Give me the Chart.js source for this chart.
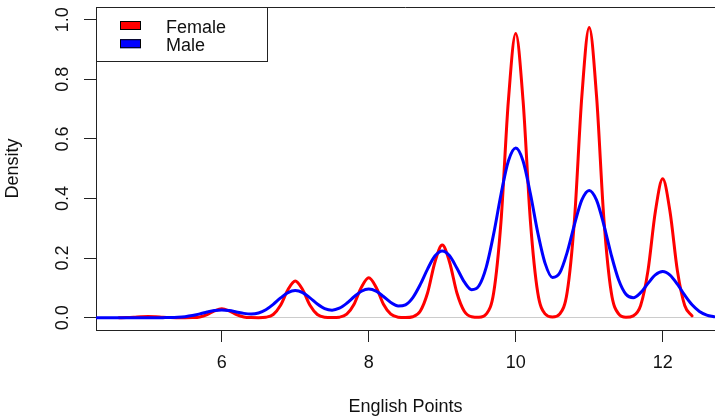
<!DOCTYPE html>
<html>
<head>
<meta charset="utf-8">
<title>English Points density</title>
<script src="https://cdn.jsdelivr.net/npm/chart.js@4/dist/chart.umd.min.js"></script>
<style>
  html, body { margin: 0; padding: 0; background: #fff; }
  canvas { display: block; }
</style>
</head>
<body>
<canvas id="density-chart" width="715" height="416"></canvas>
<script>
// Kernel density estimates of English points, evaluated on a 0.1 grid.
const gridX = [
  4.3, 4.4, 4.5, 4.6, 4.7, 4.8, 4.9, 5.0, 5.1, 5.2,
  5.3, 5.4, 5.5, 5.6, 5.7, 5.8, 5.9, 6.0, 6.1, 6.2,
  6.3, 6.4, 6.5, 6.6, 6.7, 6.8, 6.9, 7.0, 7.1, 7.2,
  7.3, 7.4, 7.5, 7.6, 7.7, 7.8, 7.9, 8.0, 8.1, 8.2,
  8.3, 8.4, 8.5, 8.6, 8.7, 8.8, 8.9, 9.0, 9.1, 9.2,
  9.3, 9.4, 9.5, 9.6, 9.7, 9.8, 9.9, 10.0, 10.1, 10.2,
  10.3, 10.4, 10.5, 10.6, 10.7, 10.8, 10.9, 11.0, 11.1, 11.2,
  11.3, 11.4, 11.5, 11.6, 11.7, 11.8, 11.9, 12.0, 12.1, 12.2,
  12.3, 12.4, 12.5, 12.6, 12.7
];

// female curve only covers 4.6 .. 12.4
const femaleDensity = [
  null, null, null, 0.0001, 0.0004, 0.0014, 0.0031, 0.0040, 0.0031, 0.0014,
  0.0004, 0.0001, 0.0000, 0.0004, 0.0026, 0.0102, 0.0229, 0.0300, 0.0229, 0.0102,
  0.0026, 0.0004, 0.0001, 0.0016, 0.0108, 0.0417, 0.0939, 0.1230, 0.0939, 0.0417,
  0.0108, 0.0016, 0.0003, 0.0018, 0.0118, 0.0454, 0.1023, 0.1340, 0.1023, 0.0454,
  0.0118, 0.0018, 0.0005, 0.0032, 0.0214, 0.0827, 0.1862, 0.2440, 0.1862, 0.0827,
  0.0214, 0.0032, 0.0014, 0.0126, 0.0838, 0.3235, 0.7281, 0.9540, 0.7281, 0.3235,
  0.0838, 0.0126, 0.0022, 0.0129, 0.0855, 0.3303, 0.7434, 0.9740, 0.7434, 0.3303,
  0.0855, 0.0129, 0.0016, 0.0062, 0.0409, 0.1580, 0.3557, 0.4660, 0.3557, 0.1580,
  0.0409, 0.0062, null, null, null
];

const maleDensity = [
  0, 0, 0, 0, 0, 0, 0, 0, 0, 0.0002,
  0.0005, 0.0015, 0.0035, 0.0072, 0.0127, 0.0189, 0.0240, 0.0260, 0.0241, 0.0194,
  0.0145, 0.0123, 0.0158, 0.0268, 0.0448, 0.0663, 0.0840, 0.0910, 0.0842, 0.0667,
  0.0462, 0.0307, 0.0253, 0.0318, 0.0485, 0.0702, 0.0888, 0.0961, 0.0890, 0.0710,
  0.0511, 0.0393, 0.0433, 0.0677, 0.1109, 0.1632, 0.2070, 0.2242, 0.2077, 0.1660,
  0.1203, 0.0942, 0.1073, 0.1708, 0.2814, 0.4145, 0.5256, 0.5692, 0.5259, 0.4158,
  0.2855, 0.1822, 0.1348, 0.1506, 0.2192, 0.3134, 0.3951, 0.4272, 0.3945, 0.3109,
  0.2110, 0.1274, 0.0788, 0.0671, 0.0840, 0.1151, 0.1438, 0.1551, 0.1431, 0.1125,
  0.0755, 0.0431, 0.0210, 0.0087, 0.0031
];

const seriesNames = ['Female', 'Male'];
const xTicks = [6, 8, 10, 12];
const xTickLabels = ['6', '8', '10', '12'];
const yTicks = [0, 0.2, 0.4, 0.6, 0.8, 1.0];
const yTickLabels = ['0.0', '0.2', '0.4', '0.6', '0.8', '1.0'];

(function () {
  'use strict';

  var FONT = '"Liberation Sans", Arial, sans-serif';
  var FONT_SIZE = 18;
  var INK = '#111';
  var FRAME = '#222';
  var RED = '#ff0000';
  var BLUE = '#0000ff';

  function toPoints(ys) {
    return gridX.map(function (x, i) { return { x: x, y: ys[i] }; });
  }

  /* ─── top edge of the plot box (axes only stroke left and bottom) ─── */
  var plotFrame = {
    id: 'plotFrame',
    afterDraw: function (chart) {
      var ctx = chart.ctx, a = chart.chartArea;
      var y = Math.round(a.top) + 0.5;
      ctx.save();
      ctx.strokeStyle = FRAME;
      ctx.lineWidth = 1;
      ctx.beginPath();
      ctx.moveTo(a.left, y);
      ctx.lineTo(a.right, y);
      ctx.stroke();
      ctx.restore();
    }
  };

  /* ─── y tick labels, turned to read upward ─── */
  var uprightYLabels = {
    id: 'uprightYLabels',
    afterDraw: function (chart) {
      var ctx = chart.ctx, scale = chart.scales.y;
      ctx.save();
      ctx.fillStyle = INK;
      ctx.font = FONT_SIZE + 'px ' + FONT;
      ctx.textAlign = 'center';
      ctx.textBaseline = 'alphabetic';
      yTicks.forEach(function (v, i) {
        ctx.save();
        ctx.translate(68, scale.getPixelForValue(v));
        ctx.rotate(-Math.PI / 2);
        ctx.fillText(yTickLabels[i], 0, 0);
        ctx.restore();
      });
      ctx.restore();
    }
  };

  /* ─── boxed legend in the top-left corner ─── */
  var boxLegend = {
    id: 'boxLegend',
    afterDraw: function (chart) {
      var ctx = chart.ctx, a = chart.chartArea;
      var left = Math.round(a.left), top = Math.round(a.top);
      var colors = [RED, BLUE];
      ctx.save();
      ctx.fillStyle = '#fff';
      ctx.fillRect(left + 1, top + 1, 170, 53);
      ctx.strokeStyle = FRAME;
      ctx.lineWidth = 1;
      ctx.strokeRect(left + 0.5, top + 0.5, 171, 54);
      ctx.font = FONT_SIZE + 'px ' + FONT;
      ctx.textAlign = 'left';
      ctx.textBaseline = 'alphabetic';
      seriesNames.forEach(function (name, i) {
        var rowY = top + 14 + i * 18.2;
        ctx.fillStyle = colors[i];
        ctx.fillRect(left + 24, rowY, 21, 9);
        ctx.strokeStyle = '#000';
        ctx.strokeRect(left + 24.5, rowY + 0.5, 20, 8);
        ctx.fillStyle = INK;
        ctx.fillText(name, left + 70, rowY + 11.5);
      });
      ctx.restore();
    }
  };

  new Chart(document.getElementById('density-chart'), {
    type: 'line',
    data: {
      datasets: [
        {
          label: seriesNames[0],
          data: toPoints(femaleDensity),
          borderColor: RED,
          borderWidth: 3,
          pointRadius: 0,
          cubicInterpolationMode: 'monotone',
          borderJoinStyle: 'round',
          borderCapStyle: 'round',
          spanGaps: false,
          order: 1
        },
        {
          label: seriesNames[1],
          data: toPoints(maleDensity),
          borderColor: BLUE,
          borderWidth: 3,
          pointRadius: 0,
          cubicInterpolationMode: 'monotone',
          borderJoinStyle: 'round',
          borderCapStyle: 'round',
          order: 0
        }
      ]
    },
    options: {
      responsive: false,
      animation: false,
      events: [],
      layout: { padding: { top: 7, right: 0, bottom: 0, left: 0 } },
      plugins: {
        legend: { display: false },
        tooltip: { enabled: false }
      },
      scales: {
        x: {
          type: 'linear',
          min: 4.288,
          max: 12.712,
          afterBuildTicks: function (axis) {
            axis.ticks = xTicks.map(function (v) { return { value: v }; });
          },
          afterFit: function (axis) { axis.height = 86; },
          border: { display: true, color: FRAME, width: 1 },
          grid: {
            drawOnChartArea: false,
            drawTicks: true,
            tickLength: 12,
            tickColor: FRAME,
            color: FRAME
          },
          ticks: {
            color: INK,
            font: { family: FONT, size: FONT_SIZE },
            padding: 10,
            maxRotation: 0,
            autoSkip: false,
            callback: function (v) {
              var i = xTicks.indexOf(v);
              return i >= 0 ? xTickLabels[i] : '';
            }
          },
          title: {
            display: true,
            text: 'English Points',
            color: INK,
            font: { family: FONT, size: FONT_SIZE, lineHeight: 1 },
            padding: { top: 0, bottom: 0 }
          }
        },
        y: {
          min: -0.0413,
          max: 1.0427,
          afterBuildTicks: function (axis) {
            axis.ticks = yTicks.map(function (v) { return { value: v }; });
          },
          afterFit: function (axis) {
            axis.width = 96;
            axis.paddingTop = 0;
            axis.paddingBottom = 0;
          },
          border: { display: true, color: FRAME, width: 1 },
          grid: {
            drawTicks: true,
            tickLength: 12,
            tickColor: FRAME,
            lineWidth: 1,
            // only the zero line is drawn across the plot
            color: function (ctx) {
              return ctx.tick && ctx.tick.value === 0 ? '#cccccc' : 'rgba(0,0,0,0)';
            }
          },
          ticks: {
            // labels are painted upright by uprightYLabels
            color: 'rgba(0,0,0,0)',
            font: { family: FONT, size: 1 }
          },
          title: {
            display: true,
            text: 'Density',
            color: INK,
            font: { family: FONT, size: FONT_SIZE, lineHeight: 1 },
            padding: { top: 4, bottom: 0 }
          }
        }
      }
    },
    plugins: [plotFrame, uprightYLabels, boxLegend]
  });
})();
</script>
</body>
</html>
